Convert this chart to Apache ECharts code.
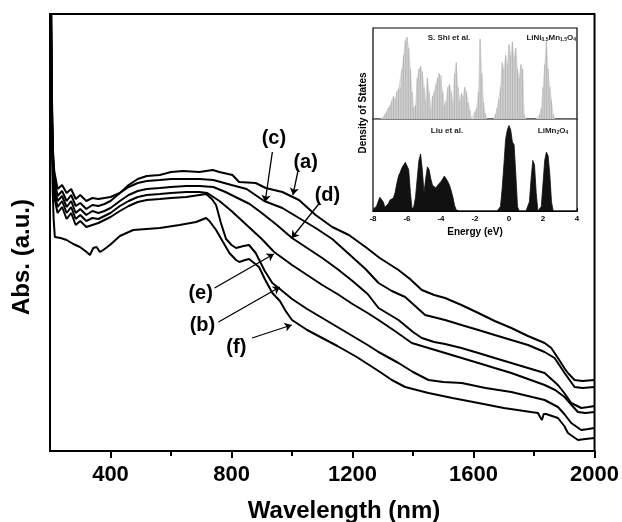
<!DOCTYPE html>
<html><head><meta charset="utf-8">
<script src="https://cdn.jsdelivr.net/npm/echarts@6/dist/echarts.min.js"></script>
<style>html,body{margin:0;padding:0;background:#fff}#c{width:622px;height:522px}</style>
</head><body><div id="c"></div>
<script>
// ---- main spectra: [wavelength (nm), absorbance (arb. units)] ----
const curveA = [[200,700],[203,480],[206,360],[210,300],[214,280],[225,262],[240,266],[255,258],[270,262],[285,252],[300,256],[320,250],[340,253],[360,252],[380,253],[400,254],[431,258],[460,266],[490,272],[520,275],[563,276],[600,279],[640,280],[694,279],[738,281],[760,279],[803,276],[825,269],[880,268],[913,263],[968,259],[1023,251],[1078,236],[1133,224],[1188,216],[1243,204],[1290,193],[1352,181],[1390,172],[1429,161],[1470,156],[1506,153],[1560,146],[1616,138],[1670,130],[1725,123],[1780,115],[1835,108],[1857,103],[1879,93],[1900,83],[1912,78],[1934,71],[1960,70],[2000,71]];
const curveC = [[200,700],[203,470],[206,350],[210,295],[214,272],[225,255],[240,260],[255,250],[270,256],[285,245],[300,248],[320,242],[340,246],[360,245],[380,247],[400,250],[431,258],[460,264],[490,268],[520,270],[563,271],[600,272],[650,272],[694,272],[740,271],[800,266],[850,262],[908,250],[968,243],[1023,233],[1078,223],[1133,212],[1188,197],[1243,182],[1286,168],[1330,160],[1374,154],[1440,136],[1506,131],[1560,126],[1616,121],[1670,116],[1725,111],[1780,106],[1835,99],[1868,93],[1901,78],[1934,64],[1960,63],[2000,64]];
const curveD = [[200,700],[203,460],[206,340],[210,290],[214,266],[225,250],[240,255],[255,244],[270,250],[285,238],[300,242],[320,236],[340,240],[360,238],[380,240],[400,243],[431,250],[460,256],[490,260],[520,262],[563,263],[600,264],[650,265],[694,265],[740,264],[780,259],[820,253],[860,247],[900,238],[950,226],[1000,213],[1050,203],[1100,193],[1150,182],[1200,170],[1250,157],[1286,143],[1352,131],[1400,119],[1429,113],[1470,109],[1506,107],[1560,103],[1616,98],[1670,93],[1725,88],[1780,83],[1835,78],[1879,66],[1900,58],[1923,48],[1956,43],[1980,44],[2000,45]];
const curveE = [[200,700],[203,450],[206,330],[210,285],[214,260],[225,244],[240,250],[255,238],[270,244],[285,232],[300,236],[320,230],[340,233],[360,232],[380,235],[400,238],[431,245],[460,250],[490,254],[520,256],[563,257],[600,258],[650,259],[694,259],[720,258],[760,250],[800,240],[850,226],[900,212],[941,199],[1000,186],[1050,176],[1100,166],[1150,157],[1200,147],[1250,138],[1286,131],[1340,120],[1396,108],[1473,101],[1550,94],[1616,88],[1670,83],[1725,78],[1780,72],[1835,66],[1870,61],[1901,54],[1930,44],[1945,39],[1970,38],[2000,39]];
const curveB = [[200,700],[203,440],[206,320],[210,280],[214,254],[225,238],[240,244],[255,232],[270,238],[285,226],[300,230],[320,224],[340,226],[360,228],[380,231],[400,234],[431,240],[460,245],[490,249],[520,251],[563,252],[600,253],[650,254],[694,256],[716,257],[735,252],[749,246],[765,228],[782,212],[800,206],[815,203],[840,205],[858,206],[880,198],[910,180],[935,168],[960,162],[1000,152],[1050,142],[1100,133],[1150,124],[1200,115],[1250,106],[1286,99],[1352,88],[1400,79],[1451,71],[1500,69],[1561,68],[1640,63],[1725,59],[1780,55],[1835,51],[1879,44],[1900,37],[1923,28],[1956,21],[1980,22],[2000,23]];
const curveF = [[200,700],[203,430],[206,310],[209,260],[212,232],[216,214],[235,213],[255,211],[277,207],[299,204],[321,199],[332,196],[343,203],[354,204],[365,199],[376,201],[398,206],[431,215],[475,221],[519,222],[563,223],[628,226],[683,229],[716,233],[727,230],[749,221],[770,210],[793,198],[815,191],[826,189],[845,191],[858,192],[891,184],[910,172],[935,158],[960,150],[979,140],[1000,131],[1050,121],[1100,113],[1150,105],[1214,94],[1286,80],[1330,71],[1374,64],[1451,58],[1530,53],[1616,48],[1700,43],[1790,39],[1813,38],[1820,34],[1826,31],[1832,37],[1840,37],[1879,33],[1900,25],[1912,18],[1945,11],[1970,12],[2000,13]];
const curves = [curveA, curveC, curveD, curveE, curveB, curveF];

const wavelengthLabels = [400, 800, 1200, 1600, 2000];
const wavelengthMinor = [600, 1000, 1400, 1800];

// ---- curve annotations (data units) ----
const annotText = ['(a)', '(b)', '(c)', '(d)', '(e)', '(f)'];
const annotLabelAt = [[1045,289],[704,126],[940,313],[1117,256],[698,158],[816,104]];
const annotArrowFrom = [[1019,279],[757,129],[935,299],[1091,248],[744,163],[868,113]];
const annotArrowTo = [[1003,256],[960,164],[911,249],[999,213],[940,197],[999,126]];

// ---- inset: density of states, energy -8..4 eV step 0.1 (121 values) ----
const dosShi = [0,0,0,0,0,0,0.02,0.05,0.08,0.12,0.15,0.2,0.25,0.22,0.3,0.33,0.35,0.55,0.7,0.86,0.9,0.78,0.55,0.3,0.12,0.15,0.45,0.55,0.58,0.52,0.35,0.2,0.45,0.3,0.12,0.25,0.3,0.38,0.45,0.5,0.48,0.3,0.15,0.2,0.35,0.38,0.3,0.18,0.5,0.62,0.35,0.2,0.28,0.25,0.35,0.3,0.18,0.1,0,0,0.08,0.12,0.3,0.88,0.5,0.18,0.06,0,0,0,0,0,0.05,0.12,0.22,0.35,0.62,0.55,0.7,0.6,0.82,0.7,0.85,0.68,0.78,0.55,0.45,0.6,0.55,0.05,0,0,0,0,0,0,0,0,0.05,0.12,0.35,0.6,0.85,0.55,0.35,0.2,0.05,0,0,0,0,0,0,0,0,0,0,0,0,0,0];
const dosLiu = [0.02,0.03,0.05,0.1,0.15,0.16,0.1,0.04,0.05,0.08,
  0.12,0.1,0.14,0.2,0.3,0.38,0.42,0.47,0.5,0.53,
  0.55,0.45,0.2,0.02,0.05,0.15,0.35,0.55,0.62,0.45,
  0.2,0.35,0.48,0.45,0.35,0.28,0.3,0.25,0.28,0.3,
  0.32,0.35,0.38,0.36,0.32,0.28,0.22,0.15,0.06,0.01,
  0,0,0,0,0,0,0,0,0,0,0,0,0,0,0,0,0,0,0,0,0,0,0,0,0,
  0.05,0.25,0.5,0.78,0.88,0.93,0.88,0.75,0.72,0.4,0.05,
  0,0,0,0,0,0,
  0.1,0.35,0.55,0.5,0.2,
  0,0,
  0.05,0.3,0.55,0.64,0.6,0.4,0.1,
  0,0,0,0,0,0,0,0,0,0,0,0,0,0,0];
const energyAxisLabels = [-8, -6, -4, -2, 0, 2, 4];

const energies = dosShi.map((_, i) => Math.round((-8 + i * 0.1) * 10) / 10);
const F = 'Liberation Sans, Arial, sans-serif';

const chart = echarts.init(document.getElementById('c'), null, {renderer: 'canvas'});

const series = curves.map(c => ({
  type: 'line', xAxisIndex: 0, yAxisIndex: 0, data: c, showSymbol: false, symbol: 'none',
  lineStyle: {color: '#000', width: 2}, clip: true, z: 3
}));
series.push({
  type: 'lines', coordinateSystem: 'cartesian2d', xAxisIndex: 0, yAxisIndex: 0,
  symbol: ['none', 'arrow'], symbolSize: 7,
  lineStyle: {color: '#000', width: 1.3, opacity: 1},
  data: annotArrowFrom.map((p, i) => ({coords: [p, annotArrowTo[i]]})), z: 4
});
series.push({
  type: 'line', xAxisIndex: 2, yAxisIndex: 1, data: energies.map((e, i) => [e, dosShi[i]]),
  symbol: 'none', lineStyle: {color: '#d0d0d0', width: 0.6}, areaStyle: {color: '#dcdcdc', opacity: 1}, z: 3
});
series.push({
  type: 'bar', xAxisIndex: 2, yAxisIndex: 1, data: energies.map((e, i) => [e, dosShi[i]]),
  barWidth: 0.9, itemStyle: {color: '#b4b4b4'}, z: 4, silent: true
});
series.push({
  type: 'line', xAxisIndex: 3, yAxisIndex: 2, data: energies.map((e, i) => [e, dosLiu[i]]),
  symbol: 'none', lineStyle: {color: '#111', width: 0.8}, areaStyle: {color: '#111', opacity: 1}, z: 3
});

const staticGraphics = [
  {type: 'text', x: 22, y: 257, rotation: Math.PI / 2,
   style: {text: 'Abs. (a.u.)', font: 'bold 24px ' + F, fill: '#000', textAlign: 'center', textVerticalAlign: 'middle'}},
  {type: 'text', x: 344, y: 511,
   style: {text: 'Wavelength (nm)', font: 'bold 24px ' + F, fill: '#000', textAlign: 'center', textVerticalAlign: 'middle'}},
  {type: 'text', x: 363, y: 113, rotation: Math.PI / 2, z: 10,
   style: {text: 'Density of States', font: 'bold 10px ' + F, fill: '#000', textAlign: 'center', textVerticalAlign: 'middle'}},
  {type: 'text', x: 475, y: 232, z: 10,
   style: {text: 'Energy (eV)', font: 'bold 10px ' + F, fill: '#000', textAlign: 'center', textVerticalAlign: 'middle'}},
  {type: 'text', x: 449, y: 38, z: 10,
   style: {text: 'S. Shi et al.', font: 'bold 8px ' + F, fill: '#222', textAlign: 'center', textVerticalAlign: 'middle'}},
  {type: 'text', x: 447, y: 131, z: 10,
   style: {text: 'Liu et al.', font: 'bold 8px ' + F, fill: '#222', textAlign: 'center', textVerticalAlign: 'middle'}},
  {type: 'text', x: 576, y: 37, z: 10,
   style: {text: '{n|LiNi}{s|0.5}{n|Mn}{s|1.5}{n|O}{s|4}', textAlign: 'right', textVerticalAlign: 'middle',
     rich: {n: {font: 'bold 8px ' + F, fill: '#222', lineHeight: 10, verticalAlign: 'bottom'},
            s: {font: 'bold 5px ' + F, fill: '#222', lineHeight: 10, verticalAlign: 'bottom', padding: [4, 0, 0, 0]}}}},
  {type: 'text', x: 553, y: 130, z: 10,
   style: {text: '{n|LiMn}{s|2}{n|O}{s|4}', textAlign: 'center', textVerticalAlign: 'middle',
     rich: {n: {font: 'bold 8px ' + F, fill: '#222', lineHeight: 10, verticalAlign: 'bottom'},
            s: {font: 'bold 5px ' + F, fill: '#222', lineHeight: 10, verticalAlign: 'bottom', padding: [4, 0, 0, 0]}}}}
];

chart.setOption({
  animation: false,
  backgroundColor: '#fff',
  grid: [
    {left: 50, right: 26, top: 14, bottom: 71, show: true, borderColor: '#000', borderWidth: 2},
    {left: 373, right: 45, top: 28, height: 91, show: true, borderColor: '#000', borderWidth: 1.2, backgroundColor: '#fff', z: 1},
    {left: 373, right: 45, top: 119, height: 92, show: true, borderColor: '#000', borderWidth: 1.2, backgroundColor: '#fff', z: 1}
  ],
  xAxis: [
    {gridIndex: 0, type: 'value', min: 200, max: 2000, interval: 200, position: 'bottom',
     axisLine: {lineStyle: {color: '#000', width: 2}},
     axisTick: {customValues: wavelengthLabels, length: 7, lineStyle: {color: '#000', width: 2}},
     axisLabel: {customValues: wavelengthLabels, formatter: v => String(v), fontSize: 22, fontWeight: 'bold', color: '#000', margin: 13, fontFamily: F},
     splitLine: {show: false}},
    {gridIndex: 0, type: 'value', min: 200, max: 2000, interval: 200, position: 'bottom',
     axisLine: {show: false},
     axisTick: {customValues: wavelengthMinor, length: 5, lineStyle: {color: '#000', width: 2}},
     axisLabel: {show: false}, splitLine: {show: false}},
    {gridIndex: 1, type: 'value', min: -8, max: 4, interval: 2, show: true,
     axisLine: {show: false}, axisTick: {show: false}, axisLabel: {show: false}, splitLine: {show: false}},
    {gridIndex: 2, type: 'value', min: -8, max: 4, interval: 2,
     axisLine: {lineStyle: {color: '#000', width: 1.2}},
     axisTick: {inside: true, length: 3, lineStyle: {color: '#000'}},
     minorTick: {show: true, splitNumber: 2, length: 2, lineStyle: {color: '#000'}},
     axisLabel: {customValues: energyAxisLabels, formatter: v => String(v), fontSize: 8, fontWeight: 'bold', color: '#000', margin: 4, fontFamily: F},
     splitLine: {show: false}}
  ],
  yAxis: [
    {gridIndex: 0, type: 'value', min: 0, max: 437, axisLine: {show: true, lineStyle: {color: '#000', width: 2}},
     axisTick: {show: false}, axisLabel: {show: false}, splitLine: {show: false}},
    {gridIndex: 1, type: 'value', min: 0, max: 1, show: false},
    {gridIndex: 2, type: 'value', min: 0, max: 1, show: false}
  ],
  series: series,
  graphic: staticGraphics
});

// curve labels placed through the main grid's scales
const labelGraphics = annotLabelAt.map((p, i) => {
  const px = chart.convertToPixel({gridIndex: 0}, p);
  return {type: 'text', x: px[0], y: px[1], z: 10,
    style: {text: annotText[i], font: 'bold 20px ' + F, fill: '#000', textAlign: 'center', textVerticalAlign: 'middle'}};
});
chart.setOption({graphic: staticGraphics.concat(labelGraphics)});
</script>
</body></html>
